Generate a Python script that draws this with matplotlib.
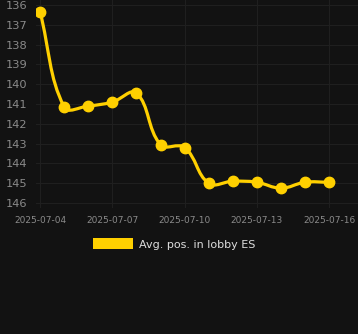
import matplotlib
matplotlib.use("Agg")
import matplotlib.pyplot as plt
import matplotlib.dates as mdates
from matplotlib.path import Path
from matplotlib.patches import PathPatch, Patch
import numpy as np
import datetime as dt

dates = ["2025-07-04", "2025-07-05", "2025-07-06", "2025-07-07", "2025-07-08",
         "2025-07-09", "2025-07-10", "2025-07-11", "2025-07-12", "2025-07-13",
         "2025-07-14", "2025-07-15", "2025-07-16"]
avg_pos = [136.35, 141.15, 141.1, 140.9, 140.45, 143.05, 143.2,
           145.0, 144.9, 144.95, 145.25, 144.95, 144.95]
tick_dates = ["2025-07-04", "2025-07-07", "2025-07-10", "2025-07-13", "2025-07-16"]
series_name = "Avg. pos. in lobby ES"

bg = "#121212"
gold = "#FFD000"
grid_c = "#1f1f1f"
txt_c = "#8a8a8a"

fig = plt.figure(figsize=(3.58, 3.34), dpi=100, facecolor=bg)
ax = fig.add_axes([36/358, 1-208/334, (358-36)/358, 208/334])
ax.set_facecolor(bg)

x = mdates.date2num([dt.datetime.strptime(d, "%Y-%m-%d") for d in dates])
y = np.array(avg_pos)

ax.set_xlim(x[0] - 0.17, x[-1] + 1.2)
ax.set_ylim(146.25, 135.75)

# smooth curve through the points (bezier control points, tension 0.4)
sx, sy = 24.0, 19.7
px, py = x * sx, y * sy
verts = [(x[0], y[0])]
codes = [Path.MOVETO]
n = len(x)
cps = []
for i in range(n):
    p0 = (px[max(i-1, 0)], py[max(i-1, 0)])
    p1 = (px[i], py[i])
    p2 = (px[min(i+1, n-1)], py[min(i+1, n-1)])
    d01 = np.hypot(p1[0]-p0[0], p1[1]-p0[1])
    d12 = np.hypot(p2[0]-p1[0], p2[1]-p1[1])
    tot = d01 + d12 if d01 + d12 > 0 else 1
    fa, fb = 0.4 * d01 / tot, 0.4 * d12 / tot
    prev_c = (p1[0] - fa*(p2[0]-p0[0]), p1[1] - fa*(p2[1]-p0[1]))
    next_c = (p1[0] + fb*(p2[0]-p0[0]), p1[1] + fb*(p2[1]-p0[1]))
    cps.append((prev_c, next_c))
for i in range(1, n):
    c1 = cps[i-1][1]
    c2 = cps[i][0]
    verts += [(c1[0]/sx, c1[1]/sy), (c2[0]/sx, c2[1]/sy), (x[i], y[i])]
    codes += [Path.CURVE4] * 3
ax.add_patch(PathPatch(Path(verts, codes), facecolor="none", edgecolor=gold, lw=2.3, zorder=3))
ax.plot(x, y, "o", color=gold, ms=7.5, zorder=4)

ax.set_yticks(range(136, 147))
ax.set_xticks(mdates.date2num([dt.datetime.strptime(d, "%Y-%m-%d") for d in tick_dates]))
ax.set_xticklabels(tick_dates)
ax.tick_params(axis="y", colors=txt_c, labelsize=8.2, length=0, pad=6)
ax.tick_params(axis="x", colors=txt_c, labelsize=6.5, length=0, pad=6)
ax.grid(True, color=grid_c, lw=0.8)
for s in ax.spines.values():
    s.set_visible(False)

fig.legend(handles=[Patch(facecolor=gold, label=series_name)], loc="center",
           bbox_to_anchor=(174/358, 1-244/334), frameon=False, fontsize=8,
           labelcolor="#dddddd", handlelength=3.6, handleheight=1.1, handletextpad=0.5)

fig.savefig("out.png", dpi=100, facecolor=bg)
